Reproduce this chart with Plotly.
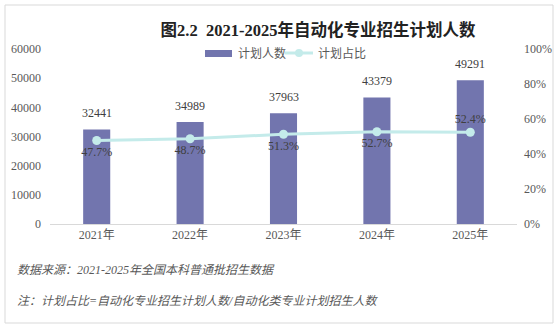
import plotly.graph_objects as go

years = ["2021年", "2022年", "2023年", "2024年", "2025年"]
plan_counts = [32441, 34989, 37963, 43379, 49291]
plan_ratio = [0.477, 0.487, 0.513, 0.527, 0.524]
ratio_label_pos = ["bottom center", "bottom center", "bottom center", "bottom center", "top center"]

title_text = "图2.2  2021-2025年自动化专业招生计划人数"
note_source = "数据来源：2021-2025年全国本科普通批招生数据"
note_def = "注：计划占比=自动化专业招生计划人数/自动化类专业计划招生人数"
legend_names = ["计划人数", "计划占比"]

SERIF = "Liberation Serif, Noto Sans CJK SC, serif"
BAR_COLOR = "#7275ae"
LINE_COLOR = "#c4ebea"
TXT = "#404040"
GRAY = "#595959"

fig = go.Figure()
fig.add_trace(go.Bar(
    x=years, y=plan_counts, name=legend_names[0],
    marker=dict(color=BAR_COLOR, line=dict(width=0)),
))
fig.add_trace(go.Scatter(
    x=years, y=plan_ratio, name=legend_names[1], yaxis="y2",
    mode="lines+markers+text",
    line=dict(color=LINE_COLOR, width=3),
    marker=dict(color=LINE_COLOR, size=9),
    text=[f"{v*100:.1f}%" for v in plan_ratio],
    textposition=ratio_label_pos,
    textfont=dict(family=SERIF, size=12, color=TXT),
    cliponaxis=False,
))

for yr, v in zip(years, plan_counts):
    fig.add_annotation(x=yr, y=v, xref="x", yref="y", text=str(v), showarrow=False,
                       yanchor="bottom", yshift=7,
                       font=dict(family=SERIF, size=12, color=TXT))

L, R, T, B = 50, 41, 49, 102
W, H = 558, 326
pw, ph = W - L - R, H - T - B

def px(x):
    return (x - L) / pw

def py(y):
    return (H - B - y) / ph

fig.update_layout(
    width=W, height=H,
    margin=dict(l=L, r=R, t=T, b=B, pad=0, autoexpand=False),
    paper_bgcolor="white", plot_bgcolor="white",
    bargap=0.71,
    showlegend=False,
    font=dict(family=SERIF, size=12, color=TXT),
    title=dict(text=title_text, x=318 / W, xanchor="center", xref="container",
               y=1 - 30 / H, yanchor="middle", yref="container",
               font=dict(family=SERIF, size=16.5, color="#222222", weight="bold")),
    xaxis=dict(showgrid=False, showline=True, linecolor="#d9d9d9", linewidth=1,
               ticks="", automargin=False,
               tickfont=dict(family=SERIF, size=12, color=GRAY)),
    yaxis=dict(range=[0, 60000], dtick=10000, tickformat="d", showgrid=False, zeroline=False,
               showline=False, ticks="", ticklabelstandoff=8, automargin=False,
               tickfont=dict(family=SERIF, size=12, color=GRAY)),
    yaxis2=dict(range=[0, 1], dtick=0.2, tickformat=".0%", overlaying="y", side="right",
                showgrid=False, zeroline=False, showline=False, ticks="",
                ticklabelstandoff=6, automargin=False,
                tickfont=dict(family=SERIF, size=12, color=GRAY)),
)

# frame
fig.add_shape(type="rect", xref="paper", yref="paper",
              x0=px(5), x1=px(553), y0=py(5), y1=py(323),
              line=dict(color="#d9d9d9", width=1), fillcolor="rgba(0,0,0,0)", layer="below")

# manual legend
fig.add_shape(type="rect", xref="paper", yref="paper",
              x0=px(205), x1=px(232), y0=py(50), y1=py(57),
              line=dict(width=0), fillcolor=BAR_COLOR)
fig.add_annotation(text=legend_names[0], xref="paper", yref="paper", x=px(236), y=py(53),
                   xanchor="left", yanchor="middle", showarrow=False,
                   font=dict(family=SERIF, size=12, color=GRAY))
fig.add_shape(type="line", xref="paper", yref="paper",
              x0=px(285), x1=px(313), y0=py(53), y1=py(53),
              line=dict(color=LINE_COLOR, width=3))
fig.add_shape(type="circle", xref="paper", yref="paper",
              x0=px(295), x1=px(303), y0=py(49), y1=py(57),
              line=dict(width=0), fillcolor=LINE_COLOR)
fig.add_annotation(text=legend_names[1], xref="paper", yref="paper", x=px(316), y=py(53),
                   xanchor="left", yanchor="middle", showarrow=False,
                   font=dict(family=SERIF, size=12, color=GRAY))

fig.add_annotation(text=note_source, xref="paper", yref="paper", x=px(15), y=py(270),
                   xanchor="left", yanchor="middle", showarrow=False,
                   font=dict(family=SERIF, size=12, color=GRAY, style="italic"))
fig.add_annotation(text=note_def, xref="paper", yref="paper", x=px(15), y=py(301),
                   xanchor="left", yanchor="middle", showarrow=False,
                   font=dict(family=SERIF, size=12, color=GRAY, style="italic"))

fig.write_html("out.html")
